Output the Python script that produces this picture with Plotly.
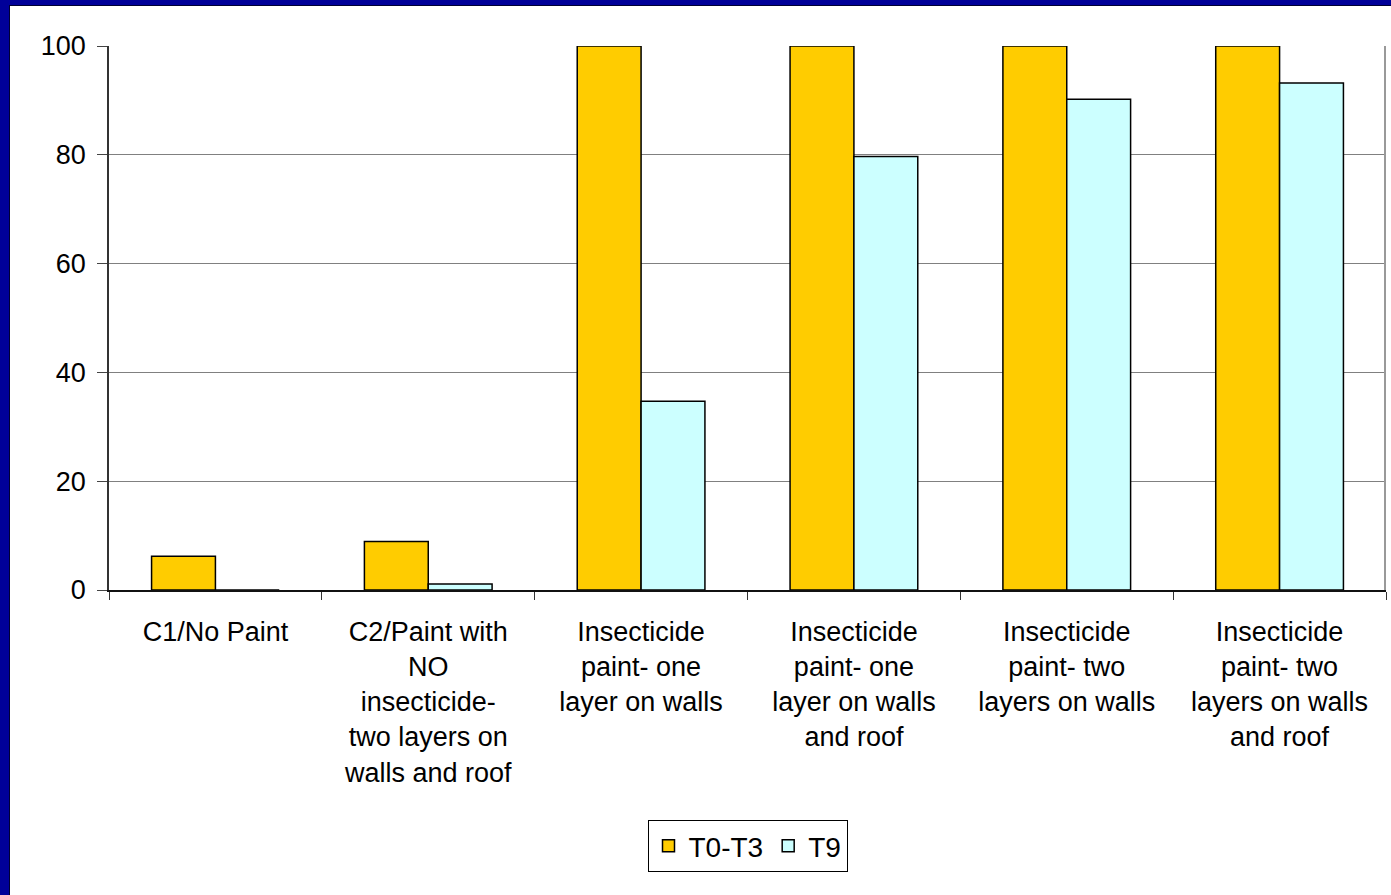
import plotly.graph_objects as go

categories = [
    "C1/No Paint",
    "C2/Paint with<br>NO<br>insecticide-<br>two layers on<br>walls and roof",
    "Insecticide<br>paint- one<br>layer on walls",
    "Insecticide<br>paint- one<br>layer on walls<br>and roof",
    "Insecticide<br>paint- two<br>layers on walls",
    "Insecticide<br>paint- two<br>layers on walls<br>and roof",
]
t0_t3 = [6.2, 8.9, 100, 100, 100, 100]
t9 = [0, 1.1, 34.7, 79.7, 90.2, 93.2]
y_ticks = [0, 20, 40, 60, 80, 100]

FONT = "Liberation Sans, Arial, sans-serif"

fig = go.Figure()
fig.add_trace(go.Bar(x=categories, y=t0_t3, name="T0-T3",
                     marker=dict(color="#FFCC00", line=dict(color="#000000", width=1.5))))
fig.add_trace(go.Bar(x=categories, y=t9, name="T9",
                     marker=dict(color="#CCFFFF", line=dict(color="#000000", width=1.5))))

W, H = 1391, 895
L, R, T, B = 109, 5, 46, 305
pw, ph = W - L - R, H - T - B

def px_x(p):
    return (p - L) / pw

def px_y(p):
    return (H - B - p) / ph

shapes = [
    dict(type="line", xref="paper", yref="paper", x0=px_x(1385), x1=px_x(1385), y0=0, y1=1,
         line=dict(color="#999999", width=2)),
    dict(type="rect", xref="paper", yref="paper", x0=px_x(-5), x1=px_x(10),
         y0=px_y(H + 5), y1=px_y(-5), fillcolor="#000099", line=dict(width=0), layer="above"),
    dict(type="rect", xref="paper", yref="paper", x0=px_x(-5), x1=px_x(W + 5),
         y0=px_y(5), y1=px_y(-5), fillcolor="#000099", line=dict(width=0), layer="above"),
    dict(type="line", xref="paper", yref="paper", x0=px_x(9.5), x1=px_x(9.5),
         y0=px_y(H + 5), y1=px_y(5), line=dict(color="#000033", width=1), layer="above"),
    dict(type="line", xref="paper", yref="paper", x0=px_x(9.5), x1=px_x(W + 5),
         y0=px_y(5.5), y1=px_y(5.5), line=dict(color="#000033", width=1), layer="above"),
]

fig.update_layout(
    width=W, height=H,
    margin=dict(l=L, r=R, t=T, b=B, autoexpand=False),
    paper_bgcolor="white", plot_bgcolor="white",
    font=dict(family=FONT, size=27, color="black"),
    barmode="group", bargap=0.4, bargroupgap=0,
    showlegend=True,
    legend=dict(orientation="h", x=0.5, xanchor="center", y=px_y(846), yanchor="middle",
                bordercolor="#000000", borderwidth=1, bgcolor="white",
                font=dict(family=FONT, size=28), itemwidth=30, tracegroupgap=0),
    shapes=shapes,
    xaxis=dict(
        showline=True, linecolor="#111111", linewidth=1.5,
        ticks="outside", tickson="boundaries", ticklen=8, tickcolor="#333333",
        tickfont=dict(family=FONT, size=27), showgrid=False,
        ticklabelstandoff=17,
    ),
    yaxis=dict(
        range=[0, 100], tickvals=y_ticks, showline=True, linecolor="#333333", linewidth=1.5,
        ticks="outside", ticklen=10, tickcolor="#444444",
        showgrid=True, gridcolor="#808080", gridwidth=1,
        tickfont=dict(family=FONT, size=27), ticklabelstandoff=6,
        zeroline=False,
    ),
)

fig.write_html("out.html")
